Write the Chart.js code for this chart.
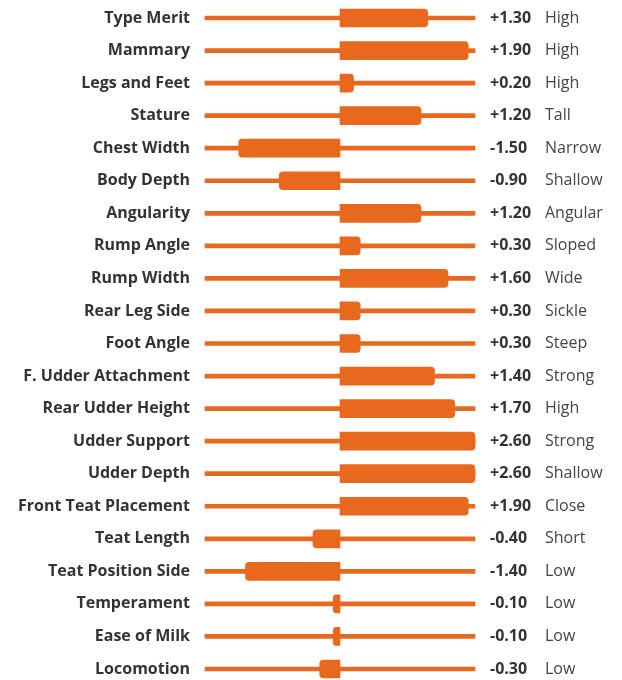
<!DOCTYPE html>
<html>
<head>
<meta charset="utf-8">
<script src="https://cdn.jsdelivr.net/npm/chart.js@4.4.1/dist/chart.umd.min.js"></script>
<style>
  html, body { margin: 0; padding: 0; background: #fff; }
  #wrap { width: 622px; height: 680px; }
</style>
</head>
<body>
<div id="wrap"><canvas id="traits" width="622" height="680"></canvas></div>
<script>
// Egenskaper (trait) och värden
const traits = [
  "Type Merit", "Mammary", "Legs and Feet", "Stature", "Chest Width",
  "Body Depth", "Angularity", "Rump Angle", "Rump Width", "Rear Leg Side",
  "Foot Angle", "F. Udder Attachment", "Rear Udder Height", "Udder Support",
  "Udder Depth", "Front Teat Placement", "Teat Length", "Teat Position Side",
  "Temperament", "Ease of Milk", "Locomotion"
];
const scores = [
  1.3, 1.9, 0.2, 1.2, -1.5,
  -0.9, 1.2, 0.3, 1.6, 0.3,
  0.3, 1.4, 1.7, 2.6,
  2.6, 1.9, -0.4, -1.4,
  -0.1, -0.1, -0.3
];
const descriptors = [
  "High", "High", "High", "Tall", "Narrow",
  "Shallow", "Angular", "Sloped", "Wide", "Sickle",
  "Steep", "Strong", "High", "Strong",
  "Shallow", "Close", "Short", "Low",
  "Low", "Low", "Low"
];
// Skalans gränser (staplar utanför klipps vid kanten)
const scaleMin = -2;
const scaleMax = 2;

const orange = "#e8681e";
const textDark = "#333333";
const fontName = '"Open Sans", sans-serif';

// Plugin som skriver värde + beskrivning till höger om varje rad
const rightLabels = {
  id: "rightLabels",
  afterDatasetsDraw(chart) {
    const ctx = chart.ctx;
    const yScale = chart.scales.y;
    const x0 = chart.chartArea.right + 15;
    ctx.save();
    ctx.textBaseline = "middle";
    ctx.textAlign = "left";
    scores.forEach((v, i) => {
      const y = yScale.getPixelForValue(i);
      ctx.fillStyle = textDark;
      ctx.font = "bold 16px " + fontName;
      ctx.fillText((v > 0 ? "+" : "") + v.toFixed(2), x0, y);
      ctx.fillStyle = "#444444";
      ctx.font = "16px " + fontName;
      ctx.fillText(descriptors[i], x0 + 55, y);
    });
    ctx.restore();
  },
};

new Chart(document.getElementById("traits"), {
  type: "bar",
  data: {
    labels: traits,
    datasets: [
      {
        // värdestaplar, klämda till skalan
        data: scores.map((v) => Math.max(scaleMin, Math.min(scaleMax, v))),
        backgroundColor: orange,
        barThickness: 18,
        borderRadius: 4,
        borderSkipped: "start",
        grouped: false,
        clip: false,
        order: 1,
      },
      {
        // tunn linje över hela skalan
        data: traits.map(() => [scaleMin, scaleMax]),
        backgroundColor: orange,
        barThickness: 4,
        borderSkipped: false,
        grouped: false,
        clip: false,
        order: 2,
      },
    ],
  },
  options: {
    indexAxis: "y",
    responsive: false,
    animation: false,
    devicePixelRatio: 1,
    layout: {
      padding: { top: 18, bottom: 11, left: 0, right: 147 },
    },
    plugins: {
      legend: { display: false },
      tooltip: { enabled: false },
    },
    scales: {
      x: {
        display: false,
        min: scaleMin,
        max: scaleMax,
      },
      y: {
        offset: false,
        grid: { display: false, drawTicks: false },
        border: { display: false },
        ticks: {
          color: textDark,
          padding: 15,
          font: { family: fontName, size: 16, weight: "bold" },
        },
        afterFit(scale) {
          scale.width = 205;
          scale.paddingTop = 0;
          scale.paddingBottom = 0;
        },
      },
    },
  },
  plugins: [rightLabels],
});
</script>
</body>
</html>
